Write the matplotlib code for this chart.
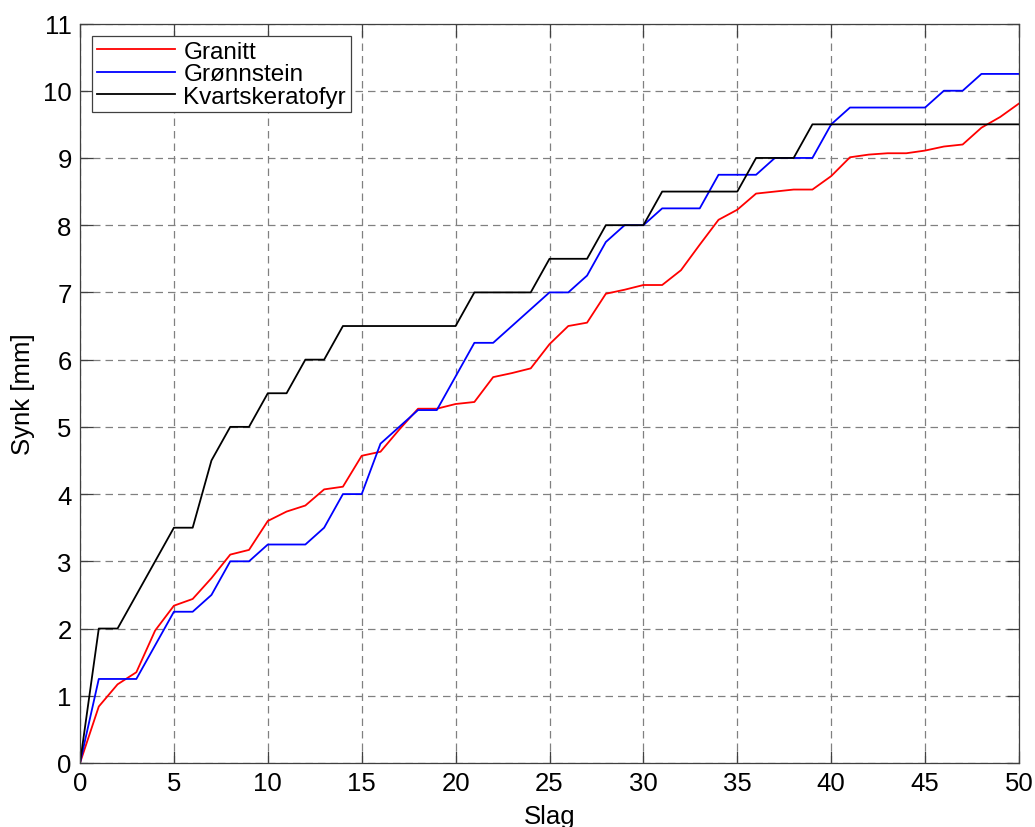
import numpy as np
import matplotlib
matplotlib.use('Agg')
import matplotlib.pyplot as plt

# Synk per slag for the three rock types
slag = np.arange(0, 51)

granitt = [0.00, 0.84, 1.17, 1.35, 1.97, 2.34, 2.44, 2.75, 3.10, 3.17,
           3.60, 3.74, 3.83, 4.07, 4.11, 4.57, 4.63, 4.96, 5.27, 5.27,
           5.34, 5.37, 5.74, 5.80, 5.87, 6.23, 6.50, 6.55, 6.98, 7.04,
           7.11, 7.11, 7.33, 7.71, 8.08, 8.23, 8.47, 8.50, 8.53, 8.53,
           8.73, 9.01, 9.05, 9.07, 9.07, 9.11, 9.17, 9.20, 9.45, 9.61,
           9.81]

gronnstein = [0.00, 1.25, 1.25, 1.25, 1.75, 2.25, 2.25, 2.50, 3.00, 3.00,
              3.25, 3.25, 3.25, 3.50, 4.00, 4.00, 4.75, 5.00, 5.25, 5.25,
              5.75, 6.25, 6.25, 6.50, 6.75, 7.00, 7.00, 7.25, 7.75, 8.00,
              8.00, 8.25, 8.25, 8.25, 8.75, 8.75, 8.75, 9.00, 9.00, 9.00,
              9.50, 9.75, 9.75, 9.75, 9.75, 9.75, 10.00, 10.00, 10.25, 10.25,
              10.25]

kvarts = [0.0, 2.0, 2.0, 2.5, 3.0, 3.5, 3.5, 4.5, 5.0, 5.0,
          5.5, 5.5, 6.0, 6.0, 6.5, 6.5, 6.5, 6.5, 6.5, 6.5,
          6.5, 7.0, 7.0, 7.0, 7.0, 7.5, 7.5, 7.5, 8.0, 8.0,
          8.0, 8.5, 8.5, 8.5, 8.5, 8.5, 9.0, 9.0, 9.0, 9.5,
          9.5, 9.5, 9.5, 9.5, 9.5, 9.5, 9.5, 9.5, 9.5, 9.5,
          9.5]

series = [
    ('Granitt', granitt, '#ff0000'),
    ('Grønnstein', gronnstein, '#0000ff'),
    ('Kvartskeratofyr', kvarts, '#000000'),
]

plt.rcParams['font.family'] = ['Liberation Sans', 'DejaVu Sans']

fig = plt.figure(figsize=(10.35, 8.28), dpi=100)
ax = fig.add_axes([80 / 1035, (828 - 764) / 828, 939 / 1035, 739.5 / 828])

for name, vals, col in series:
    ax.plot(slag, vals, color=col, linewidth=1.3, label=name)

ax.set_xlim(0, 50)
ax.set_ylim(0, 11)
ax.set_xticks(np.arange(0, 51, 5))
ax.set_yticks(np.arange(0, 12, 1))

ax.grid(True, linestyle=(0, (6, 4)), color='#808080', linewidth=0.9)
ax.set_axisbelow(True)

for sp in ax.spines.values():
    sp.set_color('#404040')
    sp.set_linewidth(0.9)

ax.tick_params(direction='in', length=9, width=0.9, color='#404040',
               top=True, right=True, labelsize=18.5, pad=6)

ax.set_xlabel('Slag', fontsize=18.5, labelpad=6)
ax.set_ylabel('Synk [mm]', fontsize=18.5, labelpad=6)

leg = ax.legend(loc='upper left', fontsize=17.5, fancybox=False,
                framealpha=1, edgecolor='#404040', borderaxespad=0.5,
                handlelength=3.2, handletextpad=0.35, borderpad=0.2,
                labelspacing=0.02)
leg.get_frame().set_linewidth(0.9)

fig.savefig('out.png', dpi=100)
